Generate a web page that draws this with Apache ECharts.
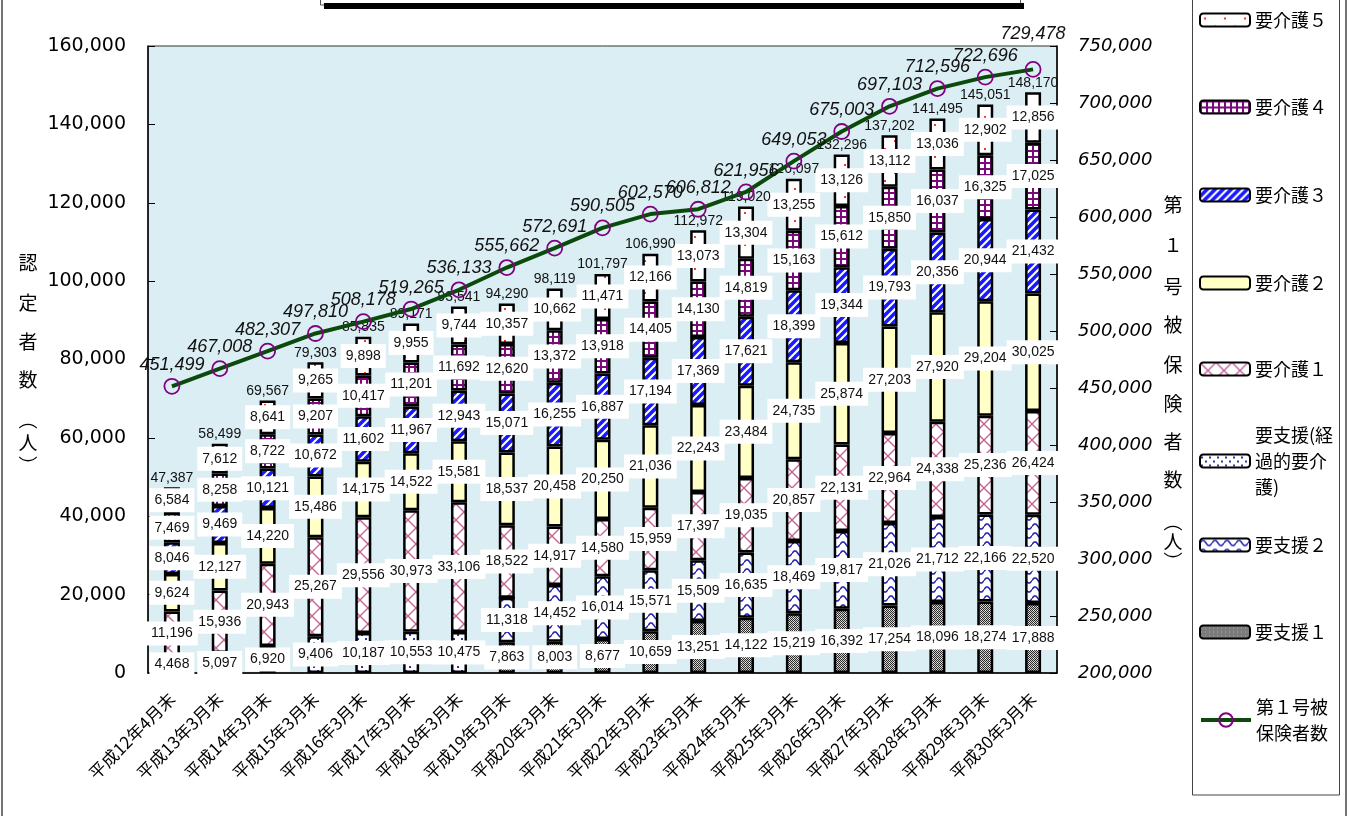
<!DOCTYPE html>
<html><head><meta charset="utf-8">
<script src="https://cdn.jsdelivr.net/npm/echarts@6/dist/echarts.min.js"></script>
<style>html,body{margin:0;padding:0;background:#fff}#c{width:1355px;height:816px}</style>
</head><body><div id="c"></div>
<script>
// ---- data ----
const categories = ['平成12年4月末','平成13年3月末','平成14年3月末','平成15年3月末','平成16年3月末','平成17年3月末','平成18年3月末','平成19年3月末','平成20年3月末','平成21年3月末','平成22年3月末','平成23年3月末','平成24年3月末','平成25年3月末','平成26年3月末','平成27年3月末','平成28年3月末','平成29年3月末','平成30年3月末'];
const shien1 = [null,null,null,null,null,null,null,7863,8003,8677,10659,13251,14122,15219,16392,17254,18096,18274,17888];
const shien2 = [null,null,null,null,null,null,null,11318,14452,16014,15571,15509,16635,18469,19817,21026,21712,22166,22520];
const keika  = [4468,5097,6920,9406,10187,10553,10475,2,null,null,null,null,null,null,null,null,null,null,null];
const kaigo1 = [11196,15936,20943,25267,29556,30973,33106,18522,14917,14580,15959,17397,19035,20857,22131,22964,24338,25236,26424];
const kaigo2 = [9624,12127,14220,15486,14175,14522,15581,18537,20458,20250,21036,22243,23484,24735,25874,27203,27920,29204,30025];
const kaigo3 = [8046,9469,10121,10672,11602,11967,12943,15071,16255,16887,17194,17369,17621,18399,19344,19793,20356,20944,21432];
const kaigo4 = [7469,8258,8722,9207,10417,11201,11692,12620,13372,13918,14405,14130,14819,15163,15612,15850,16037,16325,17025];
const kaigo5 = [6584,7612,8641,9265,9898,9955,9744,10357,10662,11471,12166,13073,13304,13255,13126,13112,13036,12902,12856];
const insured = [451499,467008,482307,497810,508178,519265,536133,555662,572691,590505,602570,606812,621956,649053,675003,697103,712596,722696,729478];
const leftTicks = [0, 160000, 20000];     // min, max, step
const rightTicks = [200000, 750000, 50000];

// ---- patterns ----
function makePattern(w, h, draw) {
  const c = document.createElement('canvas'); c.width = w; c.height = h;
  const g = c.getContext('2d'); draw(g, w, h);
  return { image: c, repeat: 'repeat' };
}
const fills = {
  s1: makePattern(4,4,g=>{g.fillStyle='#cfcfcf';g.fillRect(0,0,4,4);g.fillStyle='#2a2a2a';
        g.fillRect(0,0,1,1);g.fillRect(2,0,1,1);g.fillRect(1,1,1,1);g.fillRect(3,1,1,1);g.fillRect(0,2,1,1);g.fillRect(2,2,1,1);g.fillRect(1,3,1,1);g.fillRect(3,3,1,1);
        g.fillStyle='#fff';g.fillRect(1,2,1,1);}),
  s2: makePattern(12,9,g=>{g.fillStyle='#fff';g.fillRect(0,0,12,9);g.strokeStyle='#2424b0';g.lineWidth=1.5;g.beginPath();
        for(let x=0;x<=12;x+=0.5){const y=4.5-2.6*Math.sin(Math.PI*2*x/12); if(x===0)g.moveTo(x,y); else g.lineTo(x,y);} g.stroke();}),
  kk: makePattern(8,8,g=>{g.fillStyle='#fff';g.fillRect(0,0,8,8);g.fillStyle='#3434a8';g.fillRect(1,2,2,2);g.fillRect(5,6,2,2);}),
  k1: makePattern(16,16,g=>{g.fillStyle='#fff';g.fillRect(0,0,16,16);g.strokeStyle='#c46496';g.lineWidth=1.4;g.beginPath();
        g.moveTo(0,0);g.lineTo(16,16);g.moveTo(16,0);g.lineTo(0,16);g.stroke();}),
  k2: '#ffffc6',
  k3: makePattern(8,8,g=>{g.fillStyle='#fff';g.fillRect(0,0,8,8);g.strokeStyle='#1a1aff';g.lineWidth=3.6;g.beginPath();
        for(const o of [-8,0,8]){g.moveTo(-2+o,10);g.lineTo(10+o,-2);} g.stroke();}),
  k4: makePattern(6,6,g=>{g.fillStyle='#fff';g.fillRect(0,0,6,6);g.fillStyle='#7a0a7a';g.fillRect(0,0,6,2);g.fillRect(0,0,2,6);}),
  k5: makePattern(20,16,g=>{g.fillStyle='#fff';g.fillRect(0,0,20,16);g.fillStyle='#ff3030';g.fillRect(4,4,2,2);g.fillRect(14,12,2,2);})
};

const fmt = v => Number(v).toLocaleString('en-US');
const barDefs = [
  ['要支援１', shien1, fills.s1],
  ['要支援２', shien2, fills.s2],
  ['要支援(経過的要介護)', keika, fills.kk],
  ['要介護１', kaigo1, fills.k1],
  ['要介護２', kaigo2, fills.k2],
  ['要介護３', kaigo3, fills.k3],
  ['要介護４', kaigo4, fills.k4],
  ['要介護５', kaigo5, fills.k5]
];
const totals = categories.map((_, i) => barDefs.reduce((s, d) => s + (d[1][i] || 0), 0));

const series = barDefs.map(([name, data, fill]) => ({
  type: 'bar', name, stack: 'total', yAxisIndex: 0, barWidth: 16,
  data: data.map(v => v == null ? null : (v < 100 ? { value: v, label: { show: false } } : v)),
  itemStyle: { color: fill, borderColor: '#000', borderWidth: 2.5 },
  label: { show: true, position: 'inside', formatter: p => fmt(p.value), backgroundColor: '#fff',
           padding: [5, 5], fontSize: 14, color: '#111', fontFamily: 'Liberation Sans, Arial' },
  emphasis: { disabled: true }, z: 2
}));
series.push({
  type: 'scatter', name: '合計', yAxisIndex: 0, data: totals, symbolSize: 1,
  itemStyle: { color: 'rgba(0,0,0,0)', opacity: 1 },
  label: { show: true, position: 'top', distance: 2, formatter: p => fmt(p.value), fontSize: 14, color: '#111', fontFamily: 'Liberation Sans, Arial' },
  emphasis: { disabled: true }, z: 3
});
series.push({
  type: 'line', name: '第１号被保険者数', yAxisIndex: 1,
  data: insured.map((v, i) => i === insured.length - 1 ? { value: v, label: { offset: [0, -14] } } : v),
  symbol: 'circle', symbolSize: 15,
  lineStyle: { color: '#0b4a0b', width: 4 },
  itemStyle: { color: 'rgba(255,255,255,0)', borderColor: '#800080', borderWidth: 1.8 },
  label: { show: true, position: 'top', distance: 4, formatter: p => fmt(p.value), fontStyle: 'italic',
           fontSize: 18, color: '#111', fontFamily: 'Liberation Sans, Arial' },
  emphasis: { disabled: true }, z: 5
});

const legendDefs = [
  ['要介護５', 20, null, 1], ['要介護４', 107, null, 1], ['要介護３', 195, null, 1], ['要介護２', 283, null, 1],
  ['要介護１', 369, null, 1], ['要支援(経過的要介護)', 461, '要支援(経\n過的要介\n護)', 3],
  ['要支援２', 545, null, 1], ['要支援１', 632, null, 1], ['第１号被保険者数', 720, '第１号被\n保険者数', 2]
];
const LH = 26;
const legends = legendDefs.map(([name, y, text, lines]) => {
  const pad = (lines - 1) * LH;
  const block = lines * LH + pad;
  const isLine = name === '第１号被保険者数';
  return {
    data: [name], left: 1199, top: y - block / 2, padding: 0, orient: 'vertical',
    itemWidth: 50, itemHeight: isLine ? 17 : 13, selectedMode: false, itemGap: 0,
    lineStyle: isLine ? { width: 4, color: '#0b4a0b' } : undefined,
    formatter: () => text || name,
    textStyle: { fontSize: 18, lineHeight: LH, color: '#000', fontFamily: 'Noto Sans CJK JP', padding: [pad, 0, 0, 0] }
  };
});

function vChars(x, list) {
  return list.map(([ch, y]) => ({ type: 'text', x, y, style: { text: ch, fontSize: 19, fill: '#000',
    fontFamily: 'Noto Sans CJK JP', textAlign: 'center', textVerticalAlign: 'middle' } }));
}
const graphic = [
  { type: 'line', shape: { x1: 2, y1: 0, x2: 2, y2: 816 }, style: { stroke: '#444', lineWidth: 1.5 } },
  { type: 'line', shape: { x1: 1346, y1: 0, x2: 1346, y2: 816 }, style: { stroke: '#444', lineWidth: 1.5 } },
  { type: 'rect', shape: { x: 1192.5, y: -5, width: 147, height: 800 }, style: { fill: 'none', stroke: '#444', lineWidth: 1 } },
  { type: 'rect', shape: { x: 320.5, y: -10, width: 700, height: 15 }, style: { fill: '#fff', stroke: '#555', lineWidth: 1 } },
  { type: 'rect', shape: { x: 324, y: 3, width: 700, height: 6 }, style: { fill: '#000' } },
  ...vChars(28, [['認',263],['定',303],['者',342],['数',380],['︵',420],['人',443],['︶',466]]),
  ...vChars(1173, [['第',205],['１',245],['号',287],['被',325],['保',365],['険',404],['者',442],['数',480],['︵',522],['人',542],['︶',562]])
];

const chart = echarts.init(document.getElementById('c'));
chart.setOption({
  animation: false,
  grid: { left: 148, right: 298, top: 46, bottom: 143, show: true, backgroundColor: '#dbeef4', borderColor: '#333', borderWidth: 1 },
  legend: legends,
  graphic,
  xAxis: {
    type: 'category', data: categories, boundaryGap: true,
    axisLine: { lineStyle: { color: '#000', width: 1.5 } },
    axisTick: { inside: true, length: 5, lineStyle: { color: '#000' } },
    axisLabel: { interval: 0, rotate: 45, margin: 23, fontSize: 17, color: '#000', fontFamily: 'Noto Sans CJK JP' }
  },
  yAxis: [
    { type: 'value', position: 'left', min: leftTicks[0], max: leftTicks[1], interval: leftTicks[2],
      axisLine: { show: true, lineStyle: { color: '#000', width: 1.5 } },
      axisTick: { show: true, inside: true, length: 7, lineStyle: { color: '#000' } },
      splitLine: { show: false },
      axisLabel: { formatter: v => fmt(v), fontSize: 19, color: '#000', fontFamily: 'DejaVu Sans', margin: 22 } },
    { type: 'value', position: 'right', min: rightTicks[0], max: rightTicks[1], interval: rightTicks[2],
      axisLine: { show: true, lineStyle: { color: '#000', width: 1.5 } },
      axisTick: { show: true, inside: true, length: 7, lineStyle: { color: '#000' } },
      splitLine: { show: false },
      axisLabel: { formatter: v => fmt(v), fontSize: 18, fontStyle: 'italic', color: '#000', fontFamily: 'DejaVu Sans', margin: 21 } }
  ],
  series
});
</script>
</body></html>
